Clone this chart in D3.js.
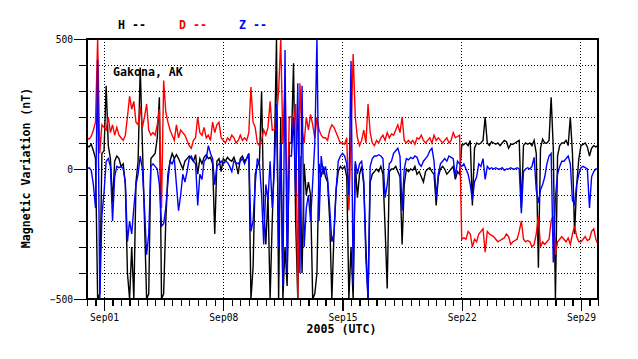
<!DOCTYPE html>
<html>
<head>
<meta charset="utf-8">
<script src="https://cdn.jsdelivr.net/npm/d3@7"></script>
<style>
  html, body { margin: 0; padding: 0; background: #fff; }
  svg { display: block; }
  text { font-family: "DejaVu Sans Mono", "Liberation Mono", monospace; }
</style>
</head>
<body>
<svg id="chart" width="638" height="359"></svg>
<script>
// ---- data (3-hourly samples starting 2005-08-31 00:00 UTC) ----
const startTime = "2005-08-31T00:00:00Z";
const endTime = "2005-09-30T00:00:00Z";
const stepHours = 3;

const hValues = [
  90, 85, 95, 70, 40, -500, -480, 60,
  70, 320, 90, 40, -130, 30, 50, 40,
  10, 20, -60, -400, -500, -300, -500, -50,
  30, 390, 100, -200, -500, -480, 40, 50,
  60, 120, 276, -500, -480, -200, -20, 30,
  60, 40, 55, 40, 20, 0, 30, 40,
  50, 40, 30, 55, -20, 40, 20, 45,
  55, 40, 45, 20, -250, 30, 40, -10,
  40, 30, 45, 35, 30, 45, 20, -20,
  40, 50, 30, 40, 60, -500, -380, -20,
  10, 30, 300, -150, -290, -100, -500, -200,
  50, 500, -500, 200, -500, -300, -450, 100,
  100, 407, -200, -500, 50, -400, 20, -100,
  -50, -100, -500, -480, -400, 20, -30, 10,
  -30, -50, -200, -500, -250, -80, -10, 10,
  0, 10, -30, -500, -300, -500, 20, -110,
  -20, 10, -60, -300, -500, -50, -20, -10,
  0, -10, 10, -20, -225, -460, -10, 0,
  0, 10, -10, -30, -290, -60, 0, -10,
  0, -5, 10, -20, -10, -30, -50, -10,
  0, 5, -10, -20, -140, -30, 0, 10,
  0, -20, -10, 0, 10, -40, -10, -20,
  90, 95, 100, 90, 110, -140, 80, 100,
  95, 100, 110, 200, 100, 90, 105, 100,
  95, 100, 90, 100, 110, 105, 80, 95,
  95, 100, 105, 110, -150, 90, 100, 95,
  100, 90, 110, 60, -380, 80, 115, 100,
  100, 110, 276, 80, -500, 50, 90, 100,
  100, 110, 90, 200, 60, -250, -60, 40,
  90, 95, 100, 85, 50, 80, 90, 85,
  90
];

const dValues = [
  120, 115, 125, 150, 180, 500, 60, 170,
  160, 150, 200, 140, 170, 130, 160, 130,
  120, 110, 130, 200, 280, 230, 260, 180,
  170, 240, 160, 200, 250, 150, 130, 140,
  130, 170, 230, -150, 340, 220, 180, 150,
  130, 110, 170, 120, 150, 140, 130, 110,
  90, 80, 110, 120, 200, 140, 130, 160,
  120, 130, 110, 180, 140, 170, 180, 120,
  110, 100, 120, 110, 130, 120, 100, 110,
  130, 110, 120, 110, 140, 315, 180, 160,
  100, 90, 110, 150, 130, 160, 260, 150,
  150, 200, 300, 500, 100, 350, -200, 200,
  200, 150, 250, -500, 330, 150, 100, 200,
  150, 210, 170, 120, 200, 150, 130, 120,
  120, 110, 150, 170, 160, 140, 120, 100,
  100, 95, 120, -160, 130, 442, 200, 120,
  90, 110, 150, 100, 250, 140, 100, 90,
  110, 100, 120, 130, 110, 140, 120, 135,
  130, 150, 170, 140, 200, 110, 100, 110,
  100, 110, 95, 120, 115, 130, 110, 100,
  110, 120, 100, 130, 110, 120, 110, 100,
  110, 120, 100, 110, 140, 120, 125, 130,
  -270, -265, -270, -240, -250, -300, -270, -280,
  -250, -240, -230, -320, -240, -250, -255, -260,
  -270, -280, -275, -270, -265, -250, -260, -290,
  -280, -275, -270, -240, -200, -270, -280, -275,
  -280, -300, -290, -250, -180, -300, -280, -290,
  -280, -270, -200, -180, -330, -280, -270, -260,
  -270, -280, -265, -290, -250, -220, -260, -280,
  -280, -270, -260, -275, -270, -240, -230, -270,
  -290
];

const zValues = [
  0, 5, -5, -60, -150, 420, -500, -180,
  -90, 30, 40, 10, -200, -30, 10, 5,
  10, 0, -50, -280, -200, -250, -150, -60,
  -20, 50, 0, -150, -330, -250, 10, 20,
  10, 0, -60, -220, -210, -150, -50, 30,
  20, 40, -60, -160, -100, -20, -50, -10,
  40, 50, 30, 20, -140, -20, -40, 30,
  40, 90, 60, 40, -60, 10, 20, 30,
  20, 30, 25, 10, -10, 30, 25, 20,
  30, 40, 20, 40, 60, -240, -200, -60,
  40, 20, -100, -290, -60, -120, 30, -150,
  0, 250, -300, 100, -450, 458, -400, 50,
  50, 200, -100, 330, -400, 320, -300, -150,
  -100, -200, -50, 100, 500, -200, 50, -20,
  10, -40, -150, -280, -250, -80, 30, 50,
  60, 50, 20, -100, 415, -445, 30, -20,
  20, 30, -50, -350, -500, 10, 40, 50,
  50, 55, 50, 40, -110, -60, 20, 30,
  60, 70, 80, 50, -160, 0, 40, 35,
  45, 40, 50, 45, 20, 10, 30, 40,
  50, 70, 80, 30, -110, -20, 20, 30,
  40, 30, 50, 45, 40, -30, 30, 20,
  10, 20, 0, -20, -60, -120, -50, -30,
  20, 10, 40, -40, 10, 0, 5, 0,
  5, 0, 0, 5, -5, 0, 0, 5,
  0, 0, 5, 0, -170, -10, 0, 5,
  0, 10, 45, -80, -130, -80, -60, -30,
  20, 50, 60, -360, -110, -20, 10, 30,
  30, 40, 50, 20, -120, -135, -60, -20,
  5, 10, 5, 0, -150, -30, -10, 0,
  0
];

const seriesNames = ["H", "D", "Z"];
const seriesColors = ["#000000", "#ff0000", "#0000ff"];
const weekTicks = ["2005-09-01", "2005-09-08", "2005-09-15", "2005-09-22", "2005-09-29"];
const yGridValues = [-400, -300, -200, -100, 0, 100, 200, 300, 400];
const yTickValues = [-500, -400, -300, -200, -100, 0, 100, 200, 300, 400, 500];
const yLabelValues = [-500, 0, 500];
const stationName = "Gakona, AK";
const xTitle = "2005 (UTC)";
const yTitle = "Magnetic Variation (nT)";

// ---- layout ----
const svg = d3.select("#chart");
const L = 87, R = 598, T = 39, B = 299;

const x = d3.scaleUtc().domain([new Date(startTime), new Date(endTime)]).range([L, R]);
const y = d3.scaleLinear().domain([-500, 500]).range([B, T]);

const t0 = new Date(startTime).getTime();
const timeAt = i => new Date(t0 + i * stepHours * 3600 * 1000);

svg.append("rect").attr("width", 638).attr("height", 359).attr("fill", "#fff");

svg.append("defs").append("clipPath").attr("id", "plotclip")
  .append("rect").attr("x", L).attr("y", T).attr("width", R - L).attr("height", B - T);

// grid
const grid = svg.append("g").attr("shape-rendering", "crispEdges");
grid.selectAll("line.hg").data(yGridValues).enter().append("line")
  .attr("x1", L).attr("x2", R).attr("y1", d => y(d)).attr("y2", d => y(d))
  .attr("stroke", "#000").attr("stroke-width", 1).attr("stroke-dasharray", "1,2");
grid.selectAll("line.vg").data(weekTicks).enter().append("line")
  .attr("x1", d => x(new Date(d + "T00:00:00Z"))).attr("x2", d => x(new Date(d + "T00:00:00Z")))
  .attr("y1", T).attr("y2", B)
  .attr("stroke", "#000").attr("stroke-width", 1).attr("stroke-dasharray", "1,2");

// data lines
const line = d3.line().x((d, i) => x(timeAt(i))).y(d => y(d));
const plot = svg.append("g").attr("clip-path", "url(#plotclip)");
[hValues, dValues, zValues].forEach((vals, k) => {
  plot.append("path").datum(vals)
    .attr("d", line)
    .attr("fill", "none")
    .attr("stroke", seriesColors[k])
    .attr("stroke-width", 1.4)
    .attr("stroke-linejoin", "miter");
});

// frame
svg.append("rect").attr("x", L).attr("y", T).attr("width", R - L).attr("height", B - T)
  .attr("fill", "none").attr("stroke", "#000").attr("stroke-width", 1.3)
  .attr("shape-rendering", "crispEdges");

// y axes
const yMinor = svg.append("g").attr("transform", `translate(${L},0)`)
  .call(d3.axisLeft(y).tickValues(yTickValues).tickSize(8).tickFormat(""));
const yMajor = svg.append("g").attr("transform", `translate(${L},0)`)
  .call(d3.axisLeft(y).tickValues(yLabelValues).tickSize(13).tickPadding(1).tickFormat(d3.format("d")));
[yMinor, yMajor].forEach(g => {
  g.select(".domain").remove();
  g.selectAll("line").attr("stroke", "#000").attr("stroke-width", 1.2).attr("shape-rendering", "crispEdges");
  g.selectAll("text").attr("fill", "#000").attr("font-size", "9.6px")
    .attr("font-family", "DejaVu Sans Mono, monospace");
});

// x axes
const xMinor = svg.append("g").attr("transform", `translate(0,${B})`)
  .call(d3.axisBottom(x).ticks(d3.utcHour.every(12)).tickSize(7).tickFormat(""));
const xMajor = svg.append("g").attr("transform", `translate(0,${B})`)
  .call(d3.axisBottom(x).tickValues(weekTicks.map(d => new Date(d + "T00:00:00Z")))
    .tickSize(12).tickPadding(3).tickFormat(d3.utcFormat("%b%d")));
[xMinor, xMajor].forEach(g => {
  g.select(".domain").remove();
  g.selectAll("line").attr("stroke", "#000").attr("stroke-width", 1.2).attr("shape-rendering", "crispEdges");
  g.selectAll("text").attr("fill", "#000").attr("font-size", "9.6px")
    .attr("font-family", "DejaVu Sans Mono, monospace");
});

// titles
svg.append("text").attr("x", 113).attr("y", 76)
  .attr("font-size", "11.6px").attr("font-weight", "bold").attr("fill", "#000")
  .text(stationName);

svg.append("text").attr("x", (L + R) / 2 - 1).attr("y", 333).attr("text-anchor", "middle")
  .attr("font-size", "11.6px").attr("font-weight", "bold").attr("fill", "#000")
  .text(xTitle);

svg.append("text").attr("transform", "translate(30,168) rotate(-90)").attr("text-anchor", "middle")
  .attr("font-size", "11.6px").attr("font-weight", "bold").attr("fill", "#000")
  .text(yTitle);

// legend
const legendX = [118, 179, 239];
seriesNames.forEach((n, k) => {
  svg.append("text").attr("x", legendX[k]).attr("y", 29)
    .attr("font-size", "11.6px").attr("font-weight", "bold").attr("fill", seriesColors[k])
    .attr("xml:space", "preserve").style("white-space", "pre")
    .text(n + " --");
});
</script>
</body>
</html>
